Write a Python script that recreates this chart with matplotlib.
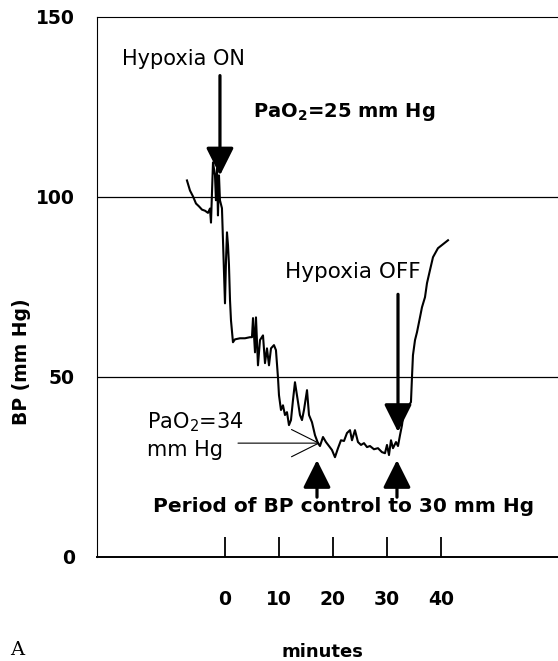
import matplotlib
matplotlib.use("Agg")
import matplotlib.pyplot as plt

# ---- data ----
time_min = [-7.04, -6.48, -5.93, -5.37, -4.81, -4.26, -3.70, -3.15, -2.78, -2.59,
            -2.22, -1.85, -1.67, -1.48, -1.30, -1.11, -0.93, -0.56, -0.37, 0.0,
            0.19, 0.37, 0.56, 0.74, 0.93, 1.11, 1.48, 1.85, 2.78, 3.70,
            4.63, 5.0, 5.19, 5.56, 5.74, 6.11, 6.48, 7.04, 7.41, 7.78,
            8.15, 8.52, 9.07, 9.44, 9.81, 10.0, 10.37, 10.74, 11.11, 11.48,
            11.85, 12.22, 12.59, 12.96, 13.33, 13.89, 14.26, 14.63, 15.19, 15.56,
            16.11, 16.67, 17.22, 17.59, 18.15, 18.70, 19.26, 19.81, 20.37, 20.93,
            21.48, 22.04, 22.59, 23.15, 23.52, 24.07, 24.63, 25.19, 25.74, 26.30,
            26.85, 27.59, 28.33, 29.07, 29.63, 30.0, 30.37, 30.74, 31.11, 31.67,
            32.04, 32.41, 32.78, 33.15, 33.52, 34.07, 34.44, 34.63, 34.81, 35.19,
            35.56, 36.11, 36.48, 37.04, 37.41, 37.96, 38.52, 39.44, 40.37, 41.30]
bp_mmhg = [104.5, 101.7, 100.1, 98.1, 97.3, 96.4, 96.1, 95.5, 96.7, 92.8,
           109.5, 105.9, 99.0, 107.8, 94.8, 105.9, 99.0, 96.8, 87.9, 70.4,
           82.3, 90.1, 86.5, 81.0, 71.3, 65.7, 59.6, 60.4, 60.7, 60.7,
           61.0, 61.0, 66.3, 56.8, 66.5, 53.2, 60.2, 61.5, 53.8, 57.9,
           53.2, 57.9, 58.8, 57.4, 49.9, 44.9, 40.8, 42.1, 39.4, 40.2,
           36.6, 38.0, 43.5, 48.5, 44.9, 39.4, 38.0, 40.8, 46.3, 39.4,
           37.4, 33.8, 31.6, 30.8, 33.3, 31.9, 30.8, 29.7, 27.7, 30.2,
           32.4, 32.2, 34.4, 35.2, 32.4, 35.2, 31.9, 31.1, 31.6, 30.5,
           30.8, 29.9, 30.2, 29.1, 28.8, 31.1, 28.3, 32.4, 30.2, 31.9,
           30.8, 33.8, 36.6, 40.8, 42.1, 42.1, 43.0, 49.9, 56.0, 60.2,
           62.4, 66.5, 69.3, 72.1, 76.0, 79.6, 83.2, 85.7, 86.8, 87.9]

x_ticks = [0, 10, 20, 30, 40]
y_ticks = [0, 50, 100, 150]
grid_levels = [50, 100]

# event markers (minutes / mm Hg)
hypoxia_on_t = -0.93
hypoxia_off_t = 32.04
control_start_t = 17.04
control_end_t = 31.85

W, H = 558, 661
fig = plt.figure(figsize=(W / 100, H / 100), dpi=100)
ax = fig.add_axes([97 / W, (H - 557) / H, (558 - 97) / W, (557 - 16.5) / H])

ax.plot(time_min, bp_mmhg, color="black", lw=1.5)

for g in grid_levels:
    ax.axhline(g, color="black", lw=0.9)

ax.set_xlim(-23.70, 61.67)
ax.set_ylim(0, 150)
ax.spines["right"].set_visible(False)
ax.spines["top"].set_linewidth(0.8)
ax.spines["left"].set_linewidth(0.8)
ax.spines["bottom"].set_linewidth(1.4)

ax.set_xticks(x_ticks)
ax.set_xticklabels([str(v) for v in x_ticks], fontsize=13.5, fontweight="bold")
ax.tick_params(axis="x", direction="in", length=14.4, width=1.3, pad=24)
ax.set_yticks(y_ticks)
ax.set_yticklabels([str(v) for v in y_ticks], fontsize=13.5, fontweight="bold")
ax.tick_params(axis="y", length=0, pad=16)

fig.text(22 / W, 1 - 362 / H, "BP (mm Hg)", rotation=90, ha="center", va="center",
         fontsize=13.5, fontweight="bold")
fig.text(322 / W, 1 - 652 / H, "minutes", ha="center", va="center",
         fontsize=13, fontweight="bold")
fig.text(17 / W, 1 - 650 / H, "A", ha="center", va="center",
         fontsize=14, family="DejaVu Serif")

plt.rcParams["mathtext.fontset"] = "dejavusans"

# annotations
ax.text(-7.78, 138.3, "Hypoxia ON", ha="center", va="center", fontsize=15)
ax.annotate("", xy=(hypoxia_on_t, 105.9), xytext=(hypoxia_on_t, 133.6),
            arrowprops=dict(arrowstyle="-|>,head_length=1.0,head_width=0.5",
                            mutation_scale=17, lw=2.3, color="black",
                            shrinkA=0, shrinkB=0))
ax.text(5.19, 123.4, r"PaO$_\mathbf{2}$=25 mm Hg", ha="left", va="center",
        fontsize=14, fontweight="bold")

ax.text(23.7, 79.0, "Hypoxia OFF", ha="center", va="center", fontsize=15.5)
ax.annotate("", xy=(hypoxia_off_t, 34.7), xytext=(hypoxia_off_t, 72.9),
            arrowprops=dict(arrowstyle="-|>,head_length=1.0,head_width=0.5",
                            mutation_scale=17, lw=2.3, color="black",
                            shrinkA=0, shrinkB=0))

ax.text(-14.4, 37.4, r"PaO$_2$=34", ha="left", va="center", fontsize=15)
ax.text(-14.4, 29.7, "mm Hg", ha="left", va="center", fontsize=15)
ax.annotate("", xy=(17.59, 31.6), xytext=(2.41, 31.6),
            arrowprops=dict(arrowstyle="->,head_length=1.4,head_width=0.7",
                            mutation_scale=14, lw=0.8, color="black",
                            shrinkA=0, shrinkB=0))

for t in (control_start_t, control_end_t):
    ax.annotate("", xy=(t, 26.9), xytext=(t, 16.6),
                arrowprops=dict(arrowstyle="-|>,head_length=1.0,head_width=0.5",
                                mutation_scale=17, lw=2.3, color="black",
                                shrinkA=0, shrinkB=0))

ax.text(-13.3, 13.9, "Period of BP control to 30 mm Hg", ha="left", va="center",
        fontsize=14.5, fontweight="bold")

fig.savefig("out.png", dpi=100)
